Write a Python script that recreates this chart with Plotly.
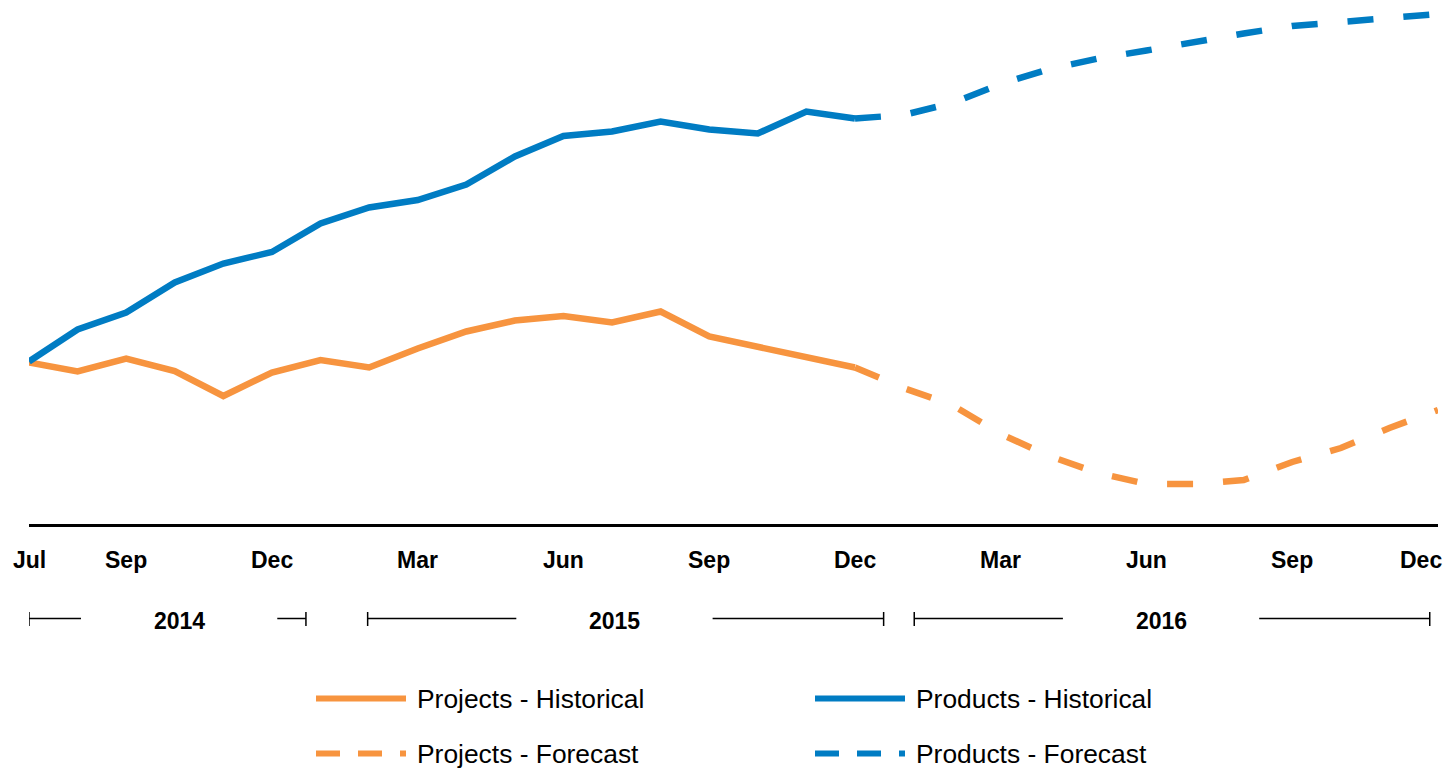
import plotly.graph_objects as go

# Monthly categories, Jul 2014 .. Dec 2016
months = [
    "2014-07", "2014-08", "2014-09", "2014-10", "2014-11", "2014-12",
    "2015-01", "2015-02", "2015-03", "2015-04", "2015-05", "2015-06",
    "2015-07", "2015-08", "2015-09", "2015-10", "2015-11", "2015-12",
    "2016-01", "2016-02", "2016-03", "2016-04", "2016-05", "2016-06",
    "2016-07", "2016-08", "2016-09", "2016-10", "2016-11", "2016-12",
]
hist_months = months[:18]          # Jul 2014 .. Dec 2015
forecast_months = months[17:]      # Dec 2015 .. Dec 2016

projects_hist = [32.5, 30.7, 33.3, 30.8, 25.8, 30.5, 33.0, 31.5, 35.3, 38.7,
                 40.9, 41.8, 40.5, 42.7, 37.7, 35.7, 33.7, 31.5]
products_hist = [32.7, 39.1, 42.5, 48.5, 52.3, 54.6, 60.3, 63.5, 65.0, 68.1,
                 73.7, 77.8, 78.7, 80.7, 79.1, 78.3, 82.7, 81.3]
projects_forecast = [31.5, 27.4, 24.0, 18.2, 13.8, 10.4, 8.2, 8.2, 9.0, 12.6,
                     15.4, 19.4, 23.0]
products_forecast = [81.3, 82.0, 84.4, 88.2, 91.2, 93.3, 94.9, 96.7, 98.3,
                     99.8, 100.5, 101.3, 102.2]

tick_months = ["2014-07", "2014-09", "2014-12", "2015-03", "2015-06", "2015-09",
               "2015-12", "2016-03", "2016-06", "2016-09", "2016-12"]
tick_text = ["Jul", "Sep", "Dec", "Mar", "Jun", "Sep", "Dec", "Mar", "Jun",
             "Sep", "Dec"]
years = ["2014", "2015", "2016"]

ORANGE = "#F7943F"
BLUE = "#007CC3"
FONT = "Liberation Sans, Arial, Helvetica, sans-serif"

W, H = 1445, 769
ML, MR, MT, MB = 29, 7, 0, 245
PW, PH = W - ML - MR, H - MT - MB


def px(xp):
    """pixel x -> paper x"""
    return (xp - ML) / PW


def py(yp):
    """pixel y -> paper y"""
    return (H - MB - yp) / PH


fig = go.Figure()
fig.add_trace(go.Scatter(x=hist_months, y=projects_hist, mode="lines",
                         name="Projects - Historical",
                         line=dict(color=ORANGE, width=6.5)))
fig.add_trace(go.Scatter(x=hist_months, y=products_hist, mode="lines",
                         name="Products - Historical",
                         line=dict(color=BLUE, width=6.5)))
fig.add_trace(go.Scatter(x=forecast_months, y=projects_forecast, mode="lines",
                         name="Projects - Forecast",
                         line=dict(color=ORANGE, width=6.5, dash="26px,30px")))
fig.add_trace(go.Scatter(x=forecast_months, y=products_forecast, mode="lines",
                         name="Products - Forecast",
                         line=dict(color=BLUE, width=6.5, dash="26px,30px")))

annotations = []
shapes = []

# Month labels under the axis
for i, (m, t) in enumerate(zip(tick_months, tick_text)):
    last = i == len(tick_months) - 1
    annotations.append(dict(
        x=m, xref="x", y=py(559.5), yref="paper",
        text=f"<b>{t}</b>", showarrow=False,
        xanchor="right" if last else "center", yanchor="middle",
        xshift=6 if last else 0,
        font=dict(family=FONT, size=23, color="#000000")))

# Year brackets: (start, end, label centre) in month-index units
year_spans = [(0.0, 5.70, 3.09), (6.97, 17.59, 12.05), (18.22, 28.83, 23.30)]
half_gap = 2.02
y_br = py(618.5)
for label, (a, b, c) in zip(years, year_spans):
    for x0, x1 in ((a, c - half_gap), (c + half_gap, b)):
        shapes.append(dict(type="line", xref="x", yref="paper",
                           x0=x0, x1=x1, y0=y_br, y1=y_br,
                           line=dict(color="#000000", width=1.5)))
    for xe in (a, b):
        shapes.append(dict(type="line", xref="x", yref="paper",
                           x0=xe, x1=xe, y0=py(612), y1=py(626),
                           line=dict(color="#000000", width=1.5)))
    annotations.append(dict(
        x=c, xref="x", y=py(621), yref="paper",
        text=f"<b>{label}</b>", showarrow=False,
        xanchor="center", yanchor="middle",
        font=dict(family=FONT, size=23, color="#000000")))

# Legend drawn as line samples with labels, two columns by two rows
legend_items = [
    ("Projects - Historical", ORANGE, "solid", 316, 698.5),
    ("Products - Historical", BLUE, "solid", 815, 698.5),
    ("Projects - Forecast", ORANGE, "24px,18px", 316, 753.5),
    ("Products - Forecast", BLUE, "24px,18px", 815, 753.5),
]
for name, color, dash, x0, yy in legend_items:
    shapes.append(dict(type="line", xref="paper", yref="paper",
                       x0=px(x0), x1=px(x0 + 90), y0=py(yy), y1=py(yy),
                       line=dict(color=color, width=6, dash=dash)))
    annotations.append(dict(
        x=px(x0 + 99), xref="paper", y=py(yy + 0.5), yref="paper",
        text=name, showarrow=False, xanchor="left", yanchor="middle",
        font=dict(family=FONT, size=26.4, color="#000000")))

fig.update_layout(
    width=W, height=H,
    margin=dict(l=ML, r=MR, t=MT, b=MB, pad=0),
    paper_bgcolor="#FFFFFF", plot_bgcolor="#FFFFFF",
    showlegend=False,
    xaxis=dict(type="category", categoryorder="array", categoryarray=months,
               range=[0, len(months) - 1], showgrid=False, zeroline=False,
               showticklabels=False, ticks="", showline=True,
               linecolor="#000000", linewidth=2.5, fixedrange=True),
    yaxis=dict(range=[0.2, 105], visible=False, showgrid=False,
               zeroline=False, fixedrange=True),
    annotations=annotations,
    shapes=shapes,
)

fig.write_html("out.html", config={"displayModeBar": False})
